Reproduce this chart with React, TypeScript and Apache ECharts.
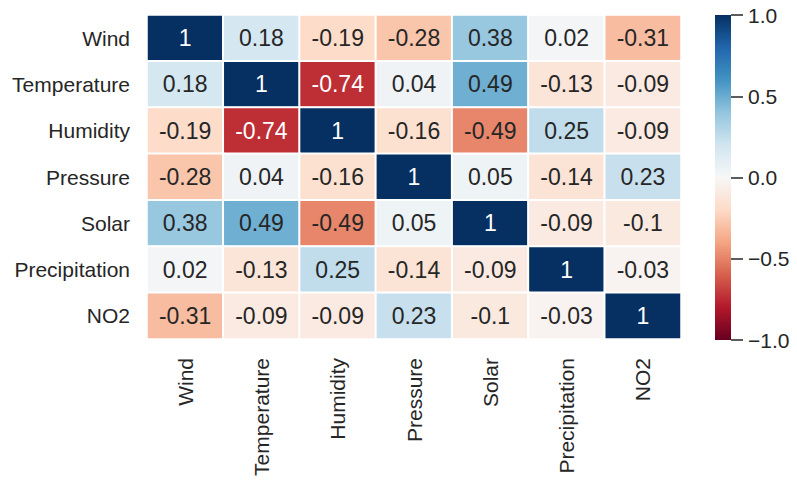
import React, { useEffect, useRef } from "react";
import * as echarts from "echarts";

const labels = ["Wind", "Temperature", "Humidity", "Pressure", "Solar", "Precipitation", "NO2"];
const rowWind = [1, 0.18, -0.19, -0.28, 0.38, 0.02, -0.31];
const rowTemperature = [0.18, 1, -0.74, 0.04, 0.49, -0.13, -0.09];
const rowHumidity = [-0.19, -0.74, 1, -0.16, -0.49, 0.25, -0.09];
const rowPressure = [-0.28, 0.04, -0.16, 1, 0.05, -0.14, 0.23];
const rowSolar = [0.38, 0.49, -0.49, 0.05, 1, -0.09, -0.1];
const rowPrecipitation = [0.02, -0.13, 0.25, -0.14, -0.09, 1, -0.03];
const rowNO2 = [-0.31, -0.09, -0.09, 0.23, -0.1, -0.03, 1];
const matrix = [rowWind, rowTemperature, rowHumidity, rowPressure, rowSolar, rowPrecipitation, rowNO2];
const colorRange = [-1, 1];

const rdbuR = ["#67001f", "#b2182b", "#d6604d", "#f4a582", "#fddbc7", "#f7f7f7", "#d1e5f0", "#92c5de", "#4393c3", "#2166ac", "#053061"];

const FONT = "Liberation Sans, Arial, sans-serif";
const TXT = "#262626";

export default function App() {
  const ref = useRef<HTMLDivElement>(null);
  useEffect(() => {
    document.body.style.margin = "0";
    const chart = echarts.init(ref.current!, null, { renderer: "svg" });
    const data: any[] = [];
    matrix.forEach((row, r) => {
      row.forEach((v, c) => {
        data.push({
          value: [c, r, v],
          label: { color: Math.abs(v) > 0.6 ? "#ffffff" : TXT },
        });
      });
    });
    const stops = rdbuR
      .slice()
      .reverse()
      .map((c, i) => ({ offset: i / (rdbuR.length - 1), color: c }));
    chart.setOption({
      animation: false,
      backgroundColor: "#ffffff",
      textStyle: { fontFamily: FONT },
      grid: [
        { left: 147, top: 15, width: 534, height: 324 },
        { left: 715, top: 15, width: 16, height: 325 },
      ],
      xAxis: [
        {
          type: "category",
          data: labels,
          gridIndex: 0,
          axisLine: { show: false },
          axisTick: { show: false },
          splitLine: { show: false },
          axisLabel: { rotate: 90, fontSize: 21, color: TXT, margin: 19, fontFamily: FONT },
        },
        { type: "value", gridIndex: 1, show: false, min: 0, max: 1 },
      ],
      yAxis: [
        {
          type: "category",
          data: labels,
          inverse: true,
          gridIndex: 0,
          axisLine: { show: false },
          axisTick: { show: false },
          splitLine: { show: false },
          axisLabel: { fontSize: 21, color: TXT, margin: 17, fontFamily: FONT },
        },
        {
          type: "value",
          gridIndex: 1,
          position: "right",
          min: colorRange[0],
          max: colorRange[1],
          interval: 0.5,
          axisLine: { show: true, onZero: false, lineStyle: { opacity: 0 } },
          splitLine: { show: false },
          axisTick: { show: true, inside: false, length: 12, lineStyle: { color: TXT, width: 1.5 } },
          axisLabel: {
            fontSize: 21,
            color: TXT,
            margin: 17,
            fontFamily: FONT,
            formatter: (v: number) => v.toFixed(1).replace("-", "\u2212"),
          },
        },
      ],
      visualMap: {
        type: "continuous",
        min: colorRange[0],
        max: colorRange[1],
        seriesIndex: 0,
        show: false,
        inRange: { color: rdbuR },
      },
      series: [
        {
          type: "heatmap",
          xAxisIndex: 0,
          yAxisIndex: 0,
          data,
          itemStyle: { borderColor: "#ffffff", borderWidth: 2 },
          label: {
            show: true,
            fontSize: 23,
            fontFamily: FONT,
            formatter: (p: any) => String(p.value[2]),
          },
          emphasis: { disabled: true },
        },
        {
          type: "custom",
          xAxisIndex: 1,
          yAxisIndex: 1,
          silent: true,
          z: 0,
          data: [[0, colorRange[0], 1, colorRange[1]]],
          renderItem: (params: any, api: any) => {
            const p0 = api.coord([api.value(0), api.value(1)]);
            const p1 = api.coord([api.value(2), api.value(3)]);
            return {
              type: "rect",
              shape: { x: p0[0], y: p1[1], width: p1[0] - p0[0], height: p0[1] - p1[1] },
              style: { fill: new echarts.graphic.LinearGradient(0, 0, 0, 1, stops) },
            };
          },
        },
      ],
    });
    return () => chart.dispose();
  }, []);
  return <div ref={ref} style={{ width: 797, height: 487 }} />;
}
